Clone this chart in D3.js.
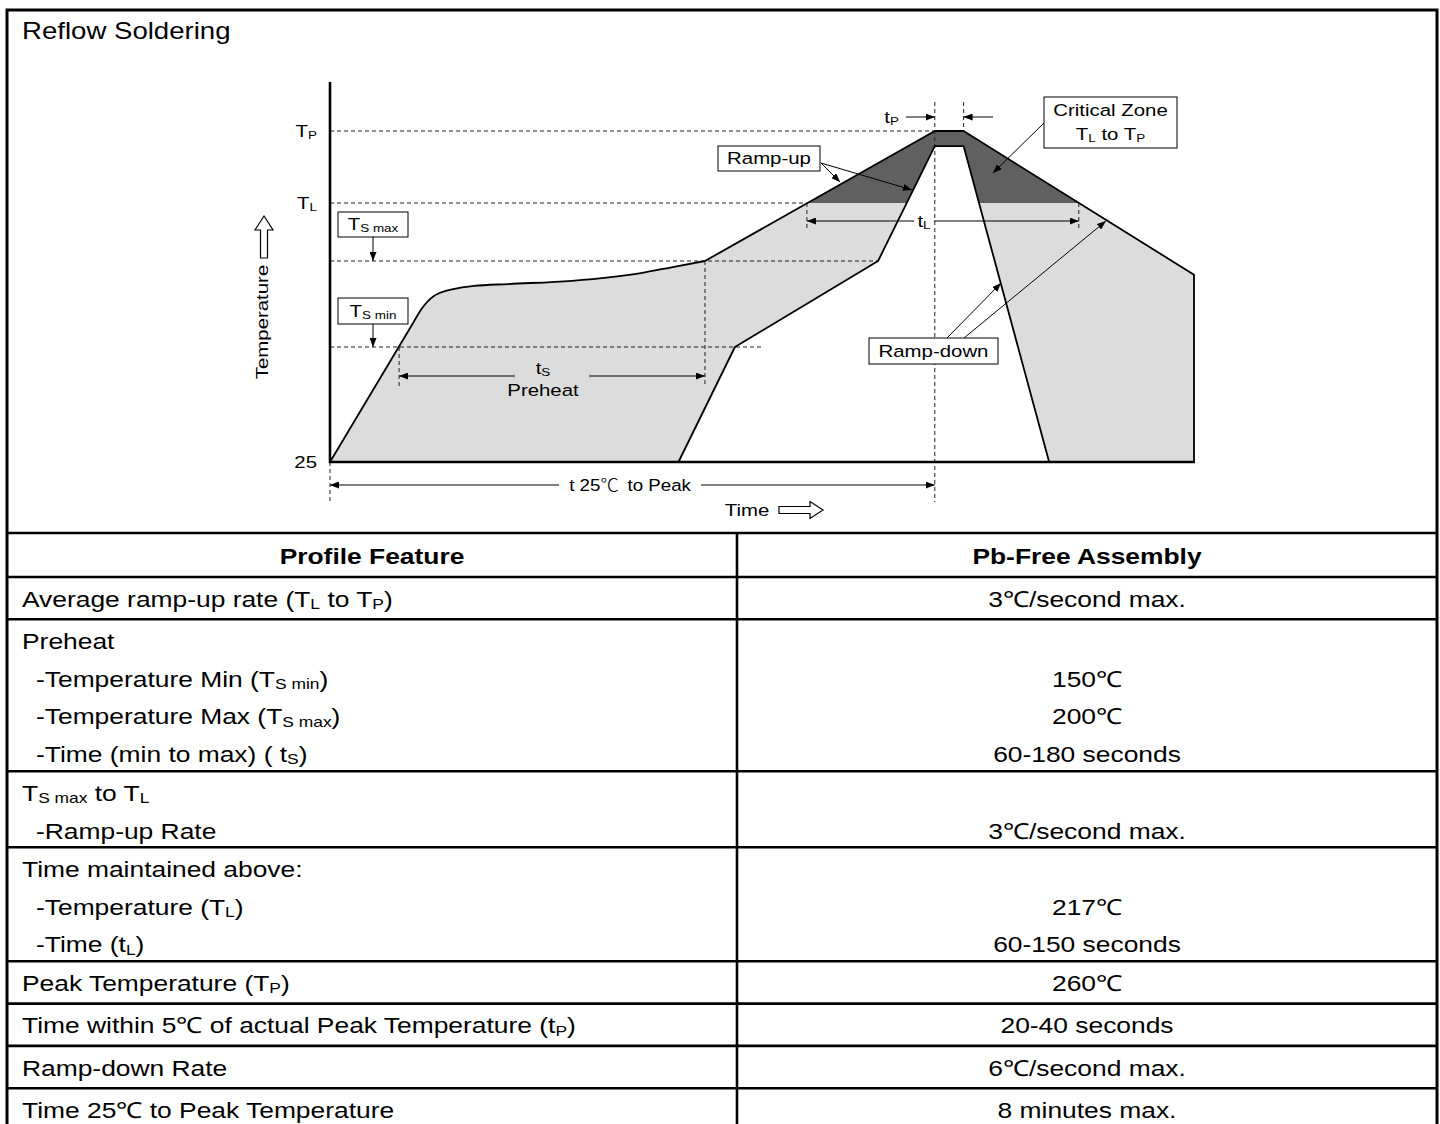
<!DOCTYPE html>
<html>
<head>
<meta charset="utf-8">
<script src="https://cdn.jsdelivr.net/npm/d3@7"></script>
<style>
  html, body { margin: 0; padding: 0; background: #fff; }
  svg { display: block; }
  text { font-family: "Liberation Sans", Arial, sans-serif; fill: #000; }
</style>
</head>
<body>
<svg id="chart" width="1440" height="1124"></svg>
<script>
// ---- data ----
// temperature levels (deg C) used on the vertical axis
const levelNames = ["25", "T_{S min}", "T_{S max}", "T_{L}", "T_{P}"];
const levelTemps = [25, 150, 200, 217, 260];
// where each dashed level guide stops (time, s)
const guideEnds = [null, 150, 190.3, 165.6, 210];

// outer profile: first ramp, soak curve, ramp to peak and ramp-down
const rampTime = [0, 29];
const rampTemp = [25, 164.4];
const soakTime = [29, 32, 38, 50, 62, 84, 108, 119, 130.2];
const soakTemp = [164.4, 172.7, 181.4, 185.5, 186.6, 188.5, 193, 196.5, 200];
const peakTime = [130.2, 210, 220, 300, 300];
const peakTemp = [200, 260, 260, 192, 25];

// inner profile (lower bound of the window)
const innerTime = [121, 140.6, 190.3, 210, 220, 249.7];
const innerTemp = [25, 150, 200, 251, 251, 25];

// time spans (s)
const tsSpan = [24, 130.2];
const tlSpan = [165.6, 260];
const tpSpan = [210, 220];
const peakAt = 210;

// callouts: label and target points [time, temp]
const calloutLabels = ["Ramp-up", "Critical Zone", "Ramp-down"];
const calloutTargets = [
  [[177.1, 229.5], [202.1, 224.8]],
  [[230.2, 234.9]],
  [[233, 187.2], [269.4, 211.7]]
];

// table
const tableHeaders = ["Profile Feature", "Pb-Free Assembly"];
const featureLines = [
  ["Average ramp-up rate (T_{L} to T_{P})"],
  ["Preheat", "-Temperature Min (T_{S min})", "-Temperature Max (T_{S max})", "-Time (min to max) ( t_{S})"],
  ["T_{S max} to T_{L}", "-Ramp-up Rate"],
  ["Time maintained above:", "-Temperature (T_{L})", "-Time (t_{L})"],
  ["Peak Temperature (T_{P})"],
  ["Time within 5℃ of actual Peak Temperature (t_{P})"],
  ["Ramp-down Rate"],
  ["Time 25℃ to Peak Temperature"]
];
const pbFreeValues = [
  ["3℃/second max."],
  ["", "150℃", "200℃", "60-180 seconds"],
  ["", "3℃/second max."],
  ["", "217℃", "60-150 seconds"],
  ["260℃"],
  ["20-40 seconds"],
  ["6℃/second max."],
  ["8 minutes max."]
];

// ---- helpers ----
const STRETCH = 1.2;

function fillRich(sel, str, size, shift) {
  const parts = str.split(/_\{([^}]*)\}/);
  let down = false;
  parts.forEach((p, i) => {
    if (!p) return;
    const ts = sel.append("tspan").text(p);
    if (i % 2 === 1) {
      ts.style("font-size", (size * 0.66) + "px");
      if (!down) { ts.attr("dy", shift); down = true; }
    } else if (down) {
      ts.attr("dy", -shift);
      down = false;
    }
  });
}

function richText(parent, str, px, py, size, opt = {}) {
  let tr = `translate(${px},${py})`;
  if (opt.rotate) tr += ` rotate(${opt.rotate})`;
  tr += ` scale(${STRETCH},1)`;
  const t = parent.append("text")
    .attr("transform", tr)
    .attr("y", size * 0.35)
    .attr("text-anchor", opt.anchor || "start")
    .style("font-size", size + "px")
    .style("font-weight", opt.bold ? "bold" : "normal");
  fillRich(t, str, size, size * 0.1);
  return t;
}

const svg = d3.select("#chart");
const defs = svg.append("defs");
defs.append("marker")
  .attr("id", "ah")
  .attr("viewBox", "0 0 10 10")
  .attr("refX", 10).attr("refY", 5)
  .attr("markerWidth", 9).attr("markerHeight", 7)
  .attr("markerUnits", "userSpaceOnUse")
  .attr("preserveAspectRatio", "none")
  .attr("orient", "auto-start-reverse")
  .append("path").attr("d", "M0,0L10,5L0,10Z").attr("fill", "#000");

// ---- scales ----
const x = d3.scaleLinear().domain([0, 300]).range([330, 1194]);
const y = d3.scaleLinear().domain(levelTemps).range([462, 347, 261, 203, 131]);
const plotTop = 82;

const g = svg.append("g");

// title
richText(g, "Reflow Soldering", 22, 31, 23);

// ---- profile band ----
const line = d3.line().x(d => x(d[0])).y(d => y(d[1]));
const smooth = d3.line().x(d => x(d[0])).y(d => y(d[1])).curve(d3.curveMonotoneX);
const cont = s => s.replace(/^M/, "L");

const outerD = line(d3.zip(rampTime, rampTemp))
  + cont(smooth(d3.zip(soakTime, soakTemp)))
  + cont(line(d3.zip(peakTime, peakTemp)));
const innerD = line(d3.zip(innerTime, innerTemp));
const bandD = outerD + "Z" + innerD + "Z";

defs.append("clipPath").attr("id", "aboveTL")
  .append("rect").attr("x", 0).attr("y", 0).attr("width", 1440).attr("height", y(217));

g.append("path").attr("d", bandD).attr("fill", "#dcdcdc").attr("fill-rule", "evenodd");
g.append("path").attr("d", bandD).attr("fill", "#606060").attr("fill-rule", "evenodd")
  .attr("clip-path", "url(#aboveTL)");

// ---- dashed guides ----
const dash = g.append("g").attr("stroke", "#222").attr("stroke-width", 1)
  .attr("stroke-dasharray", "4 3").attr("fill", "none");

levelTemps.forEach((T, i) => {
  if (guideEnds[i] == null) return;
  dash.append("line")
    .attr("x1", x(0)).attr("x2", x(guideEnds[i]))
    .attr("y1", y(T)).attr("y2", y(T));
});

const tsDimY = 376, tlDimY = 221, tpDimY = 117, fullDimY = 485;
const vGuides = [
  [tsSpan[0], y(150), tsDimY + 10],
  [tsSpan[1], y(200), tsDimY + 11],
  [tlSpan[0], y(217), tlDimY + 9],
  [tlSpan[1], y(217), tlDimY + 9],
  [peakAt, plotTop + 20, y(25) + 40],
  [tpSpan[1], plotTop + 20, y(260)],
  [0, y(25), y(25) + 40]
];
vGuides.forEach(v => {
  dash.append("line").attr("x1", x(v[0])).attr("x2", x(v[0]))
    .attr("y1", v[1]).attr("y2", v[2]);
});

// ---- profile outlines ----
g.append("path").attr("d", outerD).attr("fill", "none").attr("stroke", "#000")
  .attr("stroke-width", 1.8).attr("stroke-linejoin", "round");
g.append("path").attr("d", innerD).attr("fill", "none").attr("stroke", "#000")
  .attr("stroke-width", 1.8).attr("stroke-linejoin", "round");

// ---- axes ----
g.append("path")
  .attr("d", `M${x(0)},${plotTop}L${x(0)},${y(25)}L${x(300) + 1},${y(25)}`)
  .attr("fill", "none").attr("stroke", "#000").attr("stroke-width", 2.6);

const yAxis = d3.axisLeft(y).tickValues([25, 217, 260]).tickSize(0).tickPadding(13);
const axG = g.append("g").attr("transform", `translate(${x(0)},0)`).call(yAxis);
axG.select(".domain").remove();
axG.selectAll(".tick text").each(function(d) {
  const t = d3.select(this);
  t.text(null).attr("x", null).attr("dy", null)
    .attr("y", 17 * 0.35)
    .attr("transform", `translate(-13,0) scale(${STRETCH},1)`)
    .attr("fill", null)
    .style("font-size", "17px")
    .style("font-family", '"Liberation Sans", Arial, sans-serif');
  fillRich(t, levelNames[levelTemps.indexOf(d)], 17, 1.7);
});

// axis titles with hollow arrows
richText(g, "Temperature", 262, 322, 17, { rotate: -90, anchor: "middle" });
richText(g, "Time", 747, 510, 17, { anchor: "middle" });

const poly = pts => d3.line()(pts) + "Z";
const ux = 264;
g.append("path").attr("d", poly([
  [ux, 216], [ux + 9, 230], [ux + 3.5, 230], [ux + 3.5, 258],
  [ux - 3.5, 258], [ux - 3.5, 230], [ux - 9, 230]
])).attr("fill", "#fff").attr("stroke", "#000").attr("stroke-width", 1.2);
const ry = 510;
g.append("path").attr("d", poly([
  [823, ry], [810, ry - 8.5], [810, ry - 3.5], [779, ry - 3.5],
  [779, ry + 3.5], [810, ry + 3.5], [810, ry + 8.5]
])).attr("fill", "#fff").attr("stroke", "#000").attr("stroke-width", 1.2);

// ---- dimension lines ----
const thin = g.append("g").attr("stroke", "#000").attr("stroke-width", 1);
function seg(x1, y1, x2, y2, startHead, endHead) {
  const l = thin.append("line").attr("x1", x1).attr("y1", y1).attr("x2", x2).attr("y2", y2);
  if (startHead) l.attr("marker-start", "url(#ah)");
  if (endHead) l.attr("marker-end", "url(#ah)");
  return l;
}

// tS / Preheat
seg(x(tsSpan[0]), tsDimY, 515, tsDimY, true, false);
seg(589, tsDimY, x(tsSpan[1]), tsDimY, false, true);
richText(g, "t_{S}", 543, tsDimY - 8, 17, { anchor: "middle" });
richText(g, "Preheat", 543, tsDimY + 14, 17, { anchor: "middle" });

// t 25C to peak
seg(x(0), fullDimY, 559, fullDimY, true, false);
seg(701, fullDimY, x(peakAt), fullDimY, false, true);
const t25 = g.append("text")
  .attr("transform", `translate(630,${fullDimY}) scale(1.1,1)`)
  .attr("y", 17 * 0.35).attr("text-anchor", "middle").style("font-size", "17px");
t25.append("tspan").text("t 25");
t25.append("tspan").text("℃")
  .style("font-family", '"Noto Sans CJK JP", "Noto Sans CJK SC", sans-serif')
  .style("font-size", "17px").style("font-weight", "300");
t25.append("tspan").text(" to Peak").attr("dx", 3);

// tL
seg(x(tlSpan[0]), tlDimY, 914, tlDimY, true, false);
seg(934, tlDimY, x(tlSpan[1]), tlDimY, false, true);
richText(g, "t_{L}", 924, tlDimY, 17, { anchor: "middle" });

// tP
seg(906, tpDimY, x(tpSpan[0]), tpDimY, false, true);
seg(993, tpDimY, x(tpSpan[1]), tpDimY, false, true);
richText(g, "t_{P}", 899, tpDimY, 17, { anchor: "end" });

// ---- labelled boxes ----
function box(bx, by, bw, bh) {
  g.append("rect").attr("x", bx).attr("y", by).attr("width", bw).attr("height", bh)
    .attr("fill", "#fff").attr("stroke", "#000").attr("stroke-width", 1);
}

// Ts max / Ts min
box(338, 212, 70, 25);
richText(g, levelNames[2], 373, 224.5, 17, { anchor: "middle" });
seg(373, 237, 373, y(200), false, true);
box(338, 298, 70, 26);
richText(g, levelNames[1], 373, 311, 17, { anchor: "middle" });
seg(373, 324, 373, y(150), false, true);

// Ramp-up
box(718, 146, 102, 25);
richText(g, calloutLabels[0], 769, 158.5, 17, { anchor: "middle" });
calloutTargets[0].forEach(p => seg(821, 163, x(p[0]), y(p[1]), false, true));

// Critical zone
box(1044, 97, 133, 51);
richText(g, calloutLabels[1], 1110.5, 110, 17, { anchor: "middle" });
richText(g, "T_{L} to T_{P}", 1110.5, 134.5, 17, { anchor: "middle" });
calloutTargets[1].forEach(p => seg(1044, 123, x(p[0]), y(p[1]), false, true));

// Ramp-down
box(869, 338, 129, 26);
richText(g, calloutLabels[2], 933.5, 351, 17, { anchor: "middle" });
const rdFrom = [947, 964];
calloutTargets[2].forEach((p, i) => seg(rdFrom[i], 338, x(p[0]), y(p[1]), false, true));

// ---- frame and table ----
const frame = g.append("g").attr("stroke", "#000").attr("fill", "none");
frame.append("rect").attr("x", 7).attr("y", 10).attr("width", 1430).attr("height", 1200)
  .attr("stroke-width", 3);

const colX = [7, 737, 1437];
const headerTop = 533, headerH = 44;
const firstLine = 22, lineStep = 37.7;
const rowHeights = featureLines.map(l => l.length === 1 ? 42.3 : l.length * 38);
const rowTops = [headerTop + headerH].concat(
  Array.from(d3.cumsum(rowHeights), v => headerTop + headerH + v));

[headerTop].concat(rowTops).forEach(ry2 => {
  frame.append("line").attr("x1", colX[0]).attr("x2", colX[2])
    .attr("y1", ry2).attr("y2", ry2).attr("stroke-width", 2.6);
});
frame.append("line").attr("x1", colX[1]).attr("x2", colX[1])
  .attr("y1", headerTop).attr("y2", 1130).attr("stroke-width", 2.6);

const midL = (colX[0] + colX[1]) / 2, midR = (colX[1] + colX[2]) / 2;
richText(g, tableHeaders[0], midL, headerTop + 23, 22, { anchor: "middle", bold: true });
richText(g, tableHeaders[1], midR, headerTop + 23, 22, { anchor: "middle", bold: true });

featureLines.forEach((lines, r) => {
  lines.forEach((s, i) => {
    const cy = rowTops[r] + firstLine + i * lineStep;
    richText(g, s, s.startsWith("-") ? 36 : 22, cy, 22);
    const v = pbFreeValues[r][i];
    if (v) richText(g, v, midR, cy, 22, { anchor: "middle" });
  });
});
</script>
</body>
</html>
